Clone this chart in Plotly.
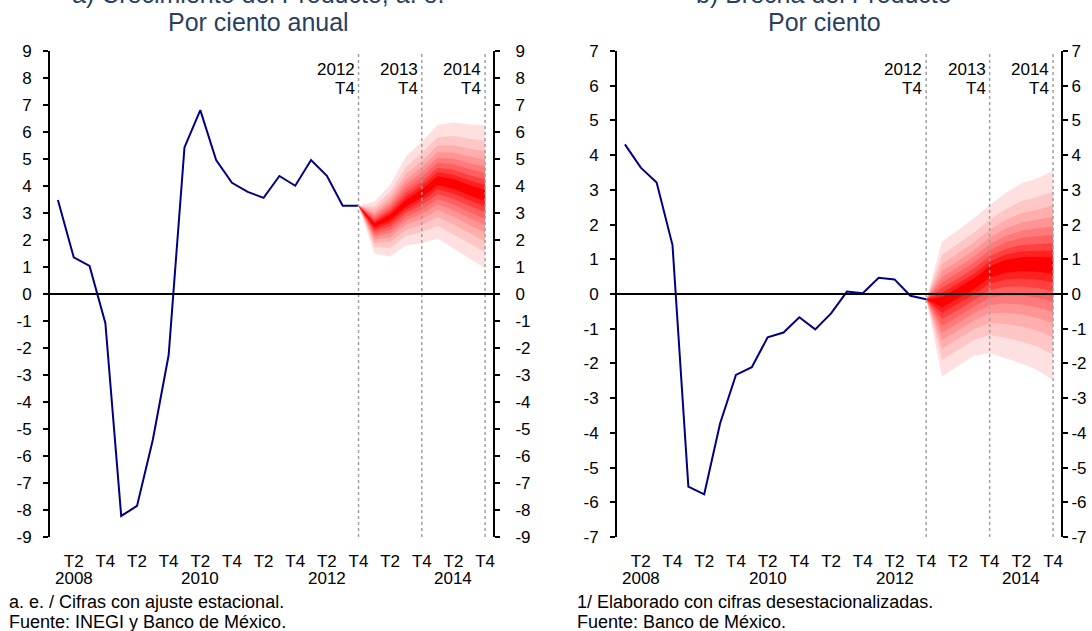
import plotly.graph_objects as go

# ---------------- data ----------------
quarters = ["2008T1", "2008T2", "2008T3", "2008T4",
            "2009T1", "2009T2", "2009T3", "2009T4",
            "2010T1", "2010T2", "2010T3", "2010T4",
            "2011T1", "2011T2", "2011T3", "2011T4",
            "2012T1", "2012T2", "2012T3", "2012T4",
            "2013T1", "2013T2", "2013T3", "2013T4",
            "2014T1", "2014T2", "2014T3", "2014T4"]
hist_quarters = quarters[:20]
fan_quarters = quarters[19:]

# Panel a) growth (annual %)
growth_hist = [3.48, 1.36, 1.04, -1.08, -8.22, -7.85, -5.40, -2.26,
               5.43, 6.81, 4.96, 4.12, 3.78, 3.56, 4.37, 4.01,
               4.96, 4.38, 3.27, 3.27]
growth_center = [3.27, 2.55, 2.85, 3.35, 3.72, 4.20, 4.08, 3.85, 3.65]
growth_upper = [3.27, 3.42, 4.04, 5.09, 5.64, 6.26, 6.35, 6.28, 6.26]
growth_lower = [3.27, 1.51, 1.38, 1.81, 1.88, 2.06, 1.69, 1.32, 0.95]

# Panel b) output gap (%)
gap_hist = [4.31, 3.64, 3.21, 1.41, -5.55, -5.77, -3.73, -2.33,
            -2.11, -1.25, -1.11, -0.67, -1.02, -0.56, 0.07, 0.02,
            0.47, 0.42, -0.05, -0.15]
gap_center = [-0.15, -0.22, 0.03, 0.30, 0.65, 0.82, 0.88, 0.88, 0.84]
gap_upper = [-0.15, 1.51, 1.84, 2.18, 2.56, 2.90, 3.19, 3.33, 3.55]
gap_lower = [-0.15, -2.38, -2.09, -1.78, -1.70, -1.85, -2.00, -2.19, -2.48]

# fan band levels (share of outer half-width) and shades, outer -> inner
band_levels = [1.00, 0.78, 0.63, 0.51, 0.41, 0.32, 0.23, 0.15, 0.077]
band_colors = ["#FFE0E0", "#FFC6C6", "#FFADAD", "#FF9494", "#FF7A7A",
               "#FF6060", "#FF4040", "#FF2020", "#FF0000"]

growth_ticks = [-9, -8, -7, -6, -5, -4, -3, -2, -1, 0, 1, 2, 3, 4, 5, 6, 7, 8, 9]
gap_ticks = [-7, -6, -5, -4, -3, -2, -1, 0, 1, 2, 3, 4, 5, 6, 7]

xtick_vals = ["2008T2", "2008T4", "2009T2", "2009T4", "2010T2", "2010T4",
              "2011T2", "2011T4", "2012T2", "2012T4", "2013T2", "2013T4",
              "2014T2", "2014T4"]
xtick_text = ["T2", "T4", "T2", "T4", "T2", "T4", "T2", "T4",
              "T2", "T4", "T2", "T4", "T2", "T4"]
year_quarters = ["2008T2", "2010T2", "2012T2", "2014T2"]
year_labels = ["2008", "2010", "2012", "2014"]
marker_quarters = ["2012T4", "2013T4", "2014T4"]
marker_years = ["2012", "2013", "2014"]
marker_q = ["T4", "T4", "T4"]

titles = ["a) Crecimiento del Producto, a. e.", "b) Brecha del Producto"]
subtitles = ["Por ciento anual", "Por ciento"]
notes = [["a. e. / Cifras con ajuste estacional.", "Fuente: INEGI y Banco de México."],
         ["1/ Elaborado con cifras desestacionalizadas.", "Fuente: Banco de México."]]

# ---------------- figure ----------------
W, H = 1092, 631
FONT = "Liberation Sans, Arial, sans-serif"
fig = go.Figure()

panels = [
    dict(hist=growth_hist, c=growth_center, u=growth_upper, l=growth_lower,
         ticks=growth_ticks, x="x", y="y", yr="y3", dom=[50, 493], tx=258, rstand=12),
    dict(hist=gap_hist, c=gap_center, u=gap_upper, l=gap_lower,
         ticks=gap_ticks, x="x2", y="y2", yr="y4", dom=[617, 1061], tx=824, rstand=0),
]

for p in panels:
    for lev, col in zip(band_levels, band_colors):
        up = [c + lev * (u - c) for c, u in zip(p["c"], p["u"])]
        lo = [c - lev * (c - l) for c, l in zip(p["c"], p["l"])]
        fig.add_trace(go.Scatter(
            x=fan_quarters + fan_quarters[::-1], y=up + lo[::-1],
            fill="toself", fillcolor=col, mode="lines", line=dict(width=0),
            xaxis=p["x"], yaxis=p["y"], showlegend=False, hoverinfo="skip"))
    fig.add_trace(go.Scatter(
        x=hist_quarters, y=p["hist"], mode="lines",
        line=dict(color="#000080", width=2),
        xaxis=p["x"], yaxis=p["y"], showlegend=False))
    fig.add_trace(go.Scatter(
        x=[quarters[0]], y=[0], mode="markers", marker=dict(opacity=0),
        xaxis=p["x"], yaxis=p["yr"], showlegend=False, hoverinfo="skip"))

y_dom = [1 - 537 / H, 1 - 51 / H]
tickfont = dict(family=FONT, size=17, color="black")

layout = dict(
    width=W, height=H, margin=dict(l=0, r=0, t=0, b=0, autoexpand=False),
    paper_bgcolor="white", plot_bgcolor="white",
    font=dict(family=FONT, size=17, color="black"),
    showlegend=False,
)

for i, p in enumerate(panels):
    xn = "xaxis" if i == 0 else "xaxis2"
    yn = "yaxis" if i == 0 else "yaxis2"
    yrn = "yaxis3" if i == 0 else "yaxis4"
    rng = [p["ticks"][0], p["ticks"][-1]]
    layout[xn] = dict(
        domain=[p["dom"][0] / W, p["dom"][1] / W], anchor=p["y"],
        type="category", categoryorder="array", categoryarray=quarters,
        range=[-0.5, len(quarters) - 0.5], automargin=False,
        tickvals=xtick_vals, ticktext=xtick_text, tickangle=0,
        showline=False, showgrid=False, zeroline=False, ticks="",
        tickfont=tickfont, ticklabelstandoff=12)
    common_y = dict(range=rng, tickvals=p["ticks"], ticktext=[str(v) for v in p["ticks"]],
                    showgrid=False, zeroline=False, automargin=False,
                    showline=True, linecolor="black", linewidth=2,
                    ticks="outside", ticklen=5, tickwidth=2, tickcolor="black",
                    tickfont=tickfont)
    layout[yn] = dict(domain=y_dom, anchor=p["x"], side="left", ticklabelstandoff=8, **common_y)
    layout[yrn] = dict(overlaying=p["y"], anchor=p["x"], side="right",
                       ticklabelstandoff=p["rstand"], **common_y)

fig.update_layout(**layout)

shapes = []
annotations = []
afont = dict(family=FONT, size=17, color="black")
for i, p in enumerate(panels):
    xd = p["x"] + " domain"
    yd = p["y"] + " domain"
    for q, yl, ql in zip(marker_quarters, marker_years, marker_q):
        xi = quarters.index(q)
        shapes.append(dict(type="line", xref=p["x"], yref=yd, x0=xi, x1=xi, y0=0, y1=1,
                           line=dict(color="#A0A0A0", width=1.5, dash="dot"), layer="above"))
        annotations.append(dict(xref=p["x"], yref="paper", x=xi, y=1 - 69 / H, xanchor="right",
                                yanchor="middle", xshift=-2, text=yl,
                                showarrow=False, font=afont))
        annotations.append(dict(xref=p["x"], yref="paper", x=xi, y=1 - 88 / H, xanchor="right",
                                yanchor="middle", xshift=-2, text=ql,
                                showarrow=False, font=afont))
    for q, yl in zip(year_quarters, year_labels):
        annotations.append(dict(xref=p["x"], yref="paper", x=quarters.index(q), y=1 - 578 / H,
                                xanchor="center", yanchor="middle", text=yl,
                                showarrow=False, font=afont))
    shapes.append(dict(type="line", xref=xd, yref=p["y"], x0=0, x1=1, y0=0, y1=0,
                       line=dict(color="black", width=2), layer="above"))
    annotations.append(dict(xref="paper", yref="paper", x=p["tx"] / W, y=1 - 22 / H,
                            xanchor="center", yanchor="middle", text=subtitles[i],
                            showarrow=False, font=dict(family=FONT, size=25, color="#2a3f5f")))
    annotations.append(dict(xref="paper", yref="paper", x=p["tx"] / W, y=1 + 6 / H,
                            xanchor="center", yanchor="middle", text=titles[i],
                            showarrow=False, font=dict(family=FONT, size=25, color="#2a3f5f")))
    nx = 7 if i == 0 else 575
    for j, t in enumerate(notes[i]):
        annotations.append(dict(xref="paper", yref="paper", x=nx / W, y=1 - (602 + 20 * j) / H,
                                xanchor="left", yanchor="middle", text=t, showarrow=False,
                                font=dict(family=FONT, size=18, color="black")))

fig.update_layout(shapes=shapes, annotations=annotations)
fig.write_html("out.html", config={"displayModeBar": False},
               post_script="document.body.style.margin='0';")
